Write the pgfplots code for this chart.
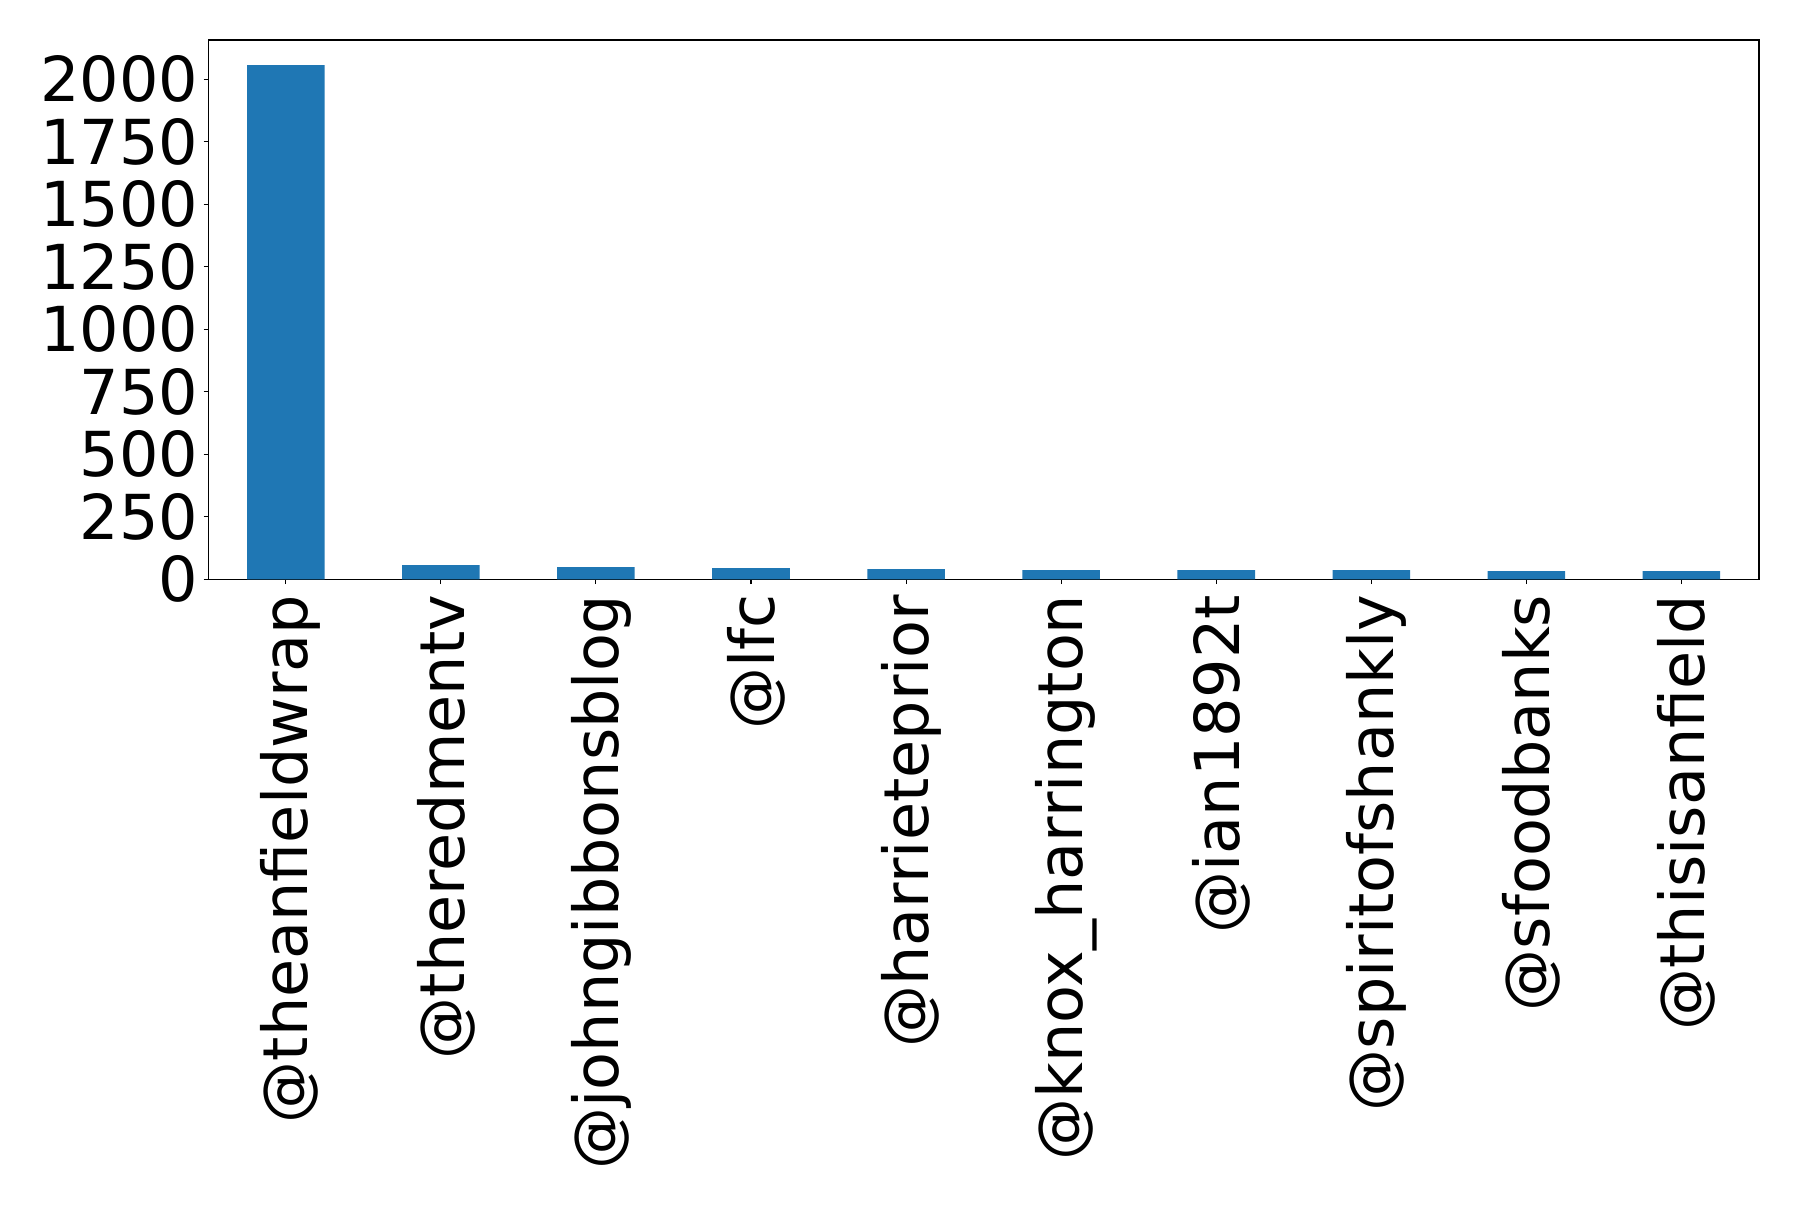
\documentclass[border=0pt]{standalone}
\usepackage{fontspec}
\setmainfont{DejaVu Sans}
\usepackage{pgfplots}
\pgfplotsset{compat=1.18}
\definecolor{mplblue}{HTML}{1F77B4}
\begin{document}
\begin{tikzpicture}
\begin{axis}[
  width=775.35pt, height=269.65pt, scale only axis,
  xmin=-0.5, xmax=9.5, ymin=0, ymax=2157,
  ytick={0,250,...,2000},
  xtick=data,
  xticklabels={@theanfieldwrap, @theredmentv, @johngibbonsblog, @lfc,
    @harrieteprior, @knox\_harrington, @ian1892t, @spiritofshankly,
    @sfoodbanks, @thisisanfield},
  xtick pos=bottom, ytick pos=left,
  tick align=outside, major tick length=2.35pt,
  tick style={black, line width=0.55pt},
  axis line style={line width=0.55pt},
  tick label style={font=\fontsize{31}{37}\selectfont},
  /pgf/number format/assume math mode=true,
  /pgf/number format/1000 sep={},
  % shifts below act in the rotated frame of the label
  xticklabel style={rotate=90, anchor=east, inner sep=0pt, xshift=-5.2pt, yshift=-2.5pt},
  yticklabel style={anchor=east, inner sep=0pt, xshift=-2.5pt},
  ybar, bar width=0.5,
]
\addplot[fill=mplblue, draw=none] coordinates
  {(0,2057) (1,57) (2,49) (3,45) (4,41) (5,37) (6,37) (7,37) (8,33) (9,33)};
\coordinate (bl) at (rel axis cs:-0.1343,-1.1639);
\coordinate (tr) at (rel axis cs:1.02514,1.07417);
\end{axis}
\pgfresetboundingbox
\path (bl) rectangle (tr);
\end{tikzpicture}
\end{document}
